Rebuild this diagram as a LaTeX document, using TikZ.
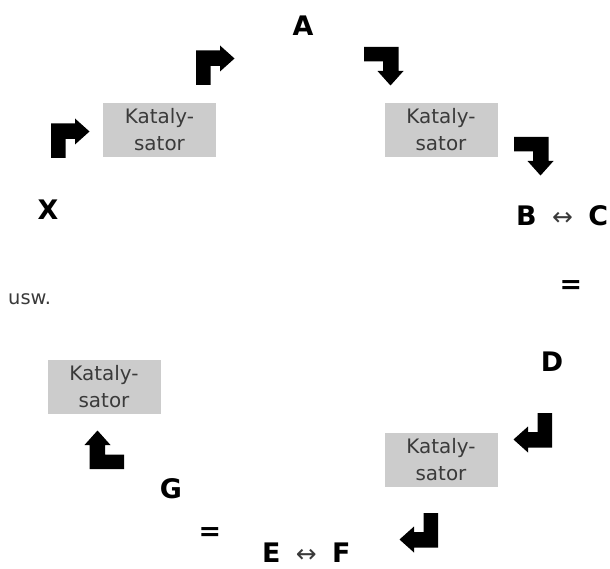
\documentclass[tikz,border=0pt]{standalone}
\usepackage{fontspec}
\setmainfont{DejaVu Sans}
\definecolor{katgray}{HTML}{CCCCCC}
\definecolor{kattext}{HTML}{3A3A3A}
\begin{document}
\begin{tikzpicture}[x=1bp,y=-1bp,
  kat/.style={fill=katgray, text=kattext, minimum width=113bp, minimum height=54bp,
    inner sep=0pt, align=center, font=\fontsize{20}{27}\selectfont},
  lab/.style={font=\fontsize{27}{30}\selectfont\bfseries, inner sep=0pt},
  small/.style={font=\fontsize{19.5}{22}\selectfont, text=kattext, inner sep=0pt},
  turnarrow/.pic={\fill[black] (0,0) -- (14.5,0) -- (14.5,-19) -- (24,-19) -- (24,-13.5)
      -- (38.5,-26.5) -- (24,-39.5) -- (24,-34.5) -- (0,-34.5) -- cycle;}
]
\useasboundingbox (0,0) rectangle (610,569);
% catalysts
\node[kat] (k1) at (159.5,130) {Kataly-\\sator};
\node[kat] (k2) at (441,130) {Kataly-\\sator};
\node[kat] (k3) at (104,386.5) {Kataly-\\sator};
\node[kat] (k4) at (441,460) {Kataly-\\sator};
% labels
\newcommand{\lr}{\hspace{6bp}{\mdseries\color{kattext}\fontsize{25}{28}\selectfont ↔}\hspace{6bp}}
\node[lab] (a) at (303,26) {A};
\node[lab] (x) at (48,210) {X};
\node[lab, anchor=west] (bc) at (516,216) {B \lr{} C};
\node[lab] (eq1) at (571,287) {=};
\node[lab] (d) at (552,362) {D};
\node[lab] (g) at (171,489) {G};
\node[lab] (eq2) at (210,534) {=};
\node[lab, anchor=west] (ef) at (262,553) {E \lr{} F};
\node[small, anchor=west] (usw) at (8,299) {usw.};
% bent arrows
\pic (p1) at (51,158) {turnarrow};
\pic (p2) at (196,85) {turnarrow};
\pic[rotate=-90] (p3) at (364,47) {turnarrow};
\pic[rotate=-90] (p4) at (514,137) {turnarrow};
\pic[rotate=180] (p5) at (552,413) {turnarrow};
\pic[rotate=180] (p6) at (438,513) {turnarrow};
\pic[rotate=90] (p7) at (124,469) {turnarrow};
\end{tikzpicture}
\end{document}
